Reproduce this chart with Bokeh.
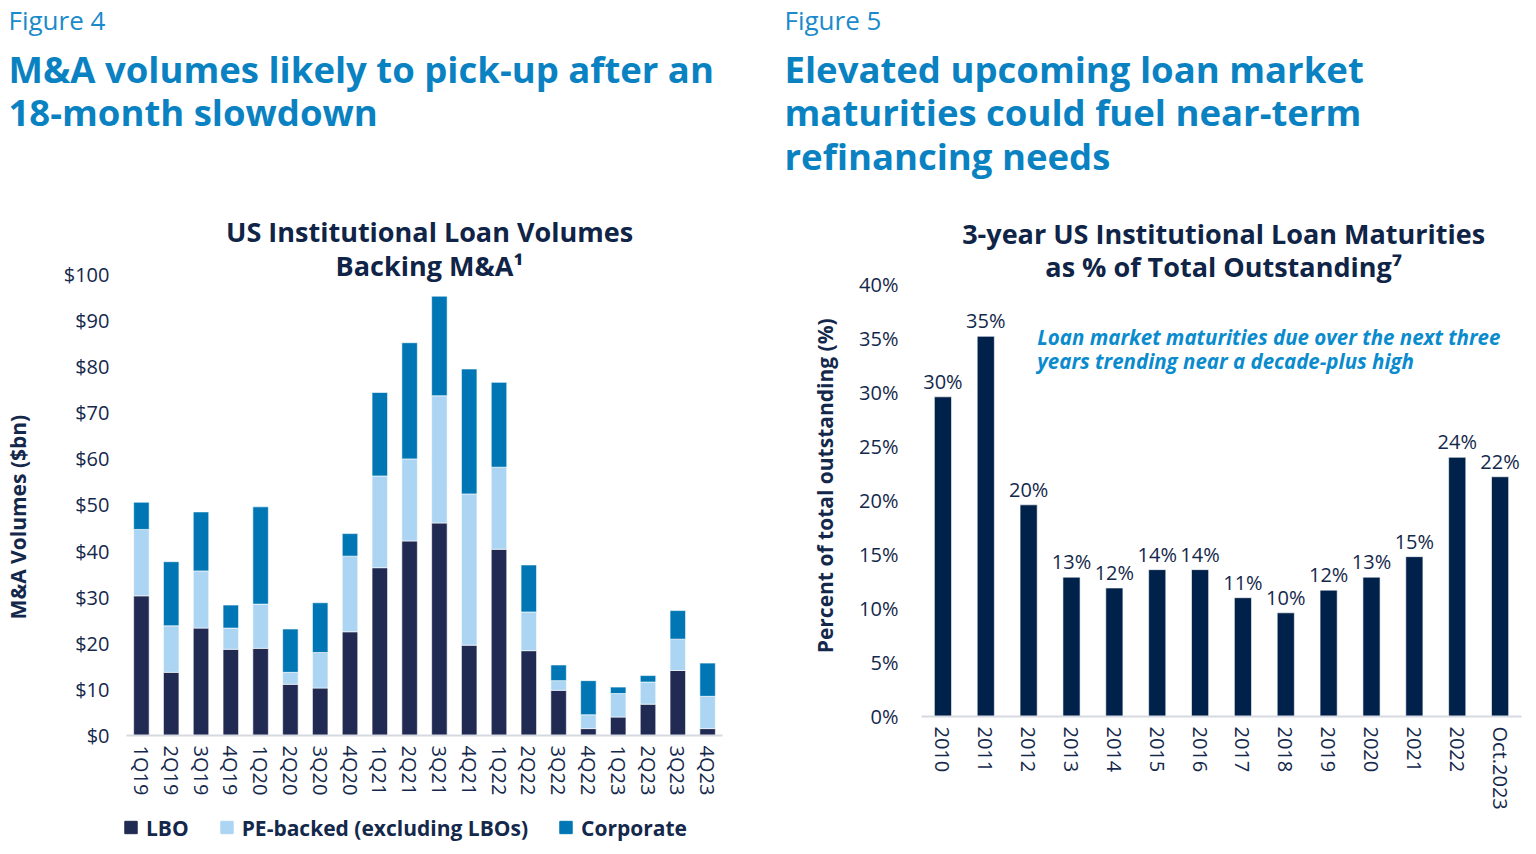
from bokeh.plotting import figure
from bokeh.models import (Legend, LegendItem, ColumnDataSource, Range1d,
                          NumeralTickFormatter, PrintfTickFormatter, FixedTicker)
from bokeh.layouts import row, column
from bokeh.core.properties import value
from bokeh.embed import file_html
from bokeh.resources import INLINE

# ---------------- data ----------------
quarters = ["1Q19", "2Q19", "3Q19", "4Q19", "1Q20", "2Q20", "3Q20", "4Q20",
            "1Q21", "2Q21", "3Q21", "4Q21", "1Q22", "2Q22", "3Q22", "4Q22",
            "1Q23", "2Q23", "3Q23", "4Q23"]
lbo = [30.3, 13.7, 23.3, 18.7, 18.9, 11.1, 10.3, 22.5, 36.4, 42.2,
       46.1, 19.6, 40.4, 18.4, 9.8, 1.5, 4.0, 6.8, 14.1, 1.5]
pe_backed = [14.4, 10.1, 12.4, 4.6, 9.6, 2.6, 7.7, 16.4, 19.9, 17.8,
             27.6, 32.8, 17.8, 8.4, 2.1, 3.0, 5.1, 4.8, 6.8, 7.0]
corporate = [5.9, 13.9, 12.8, 5.0, 21.1, 9.4, 10.8, 4.9, 18.1, 25.2,
             21.6, 27.1, 18.4, 10.2, 3.4, 7.4, 1.4, 1.4, 6.2, 7.2]
series_names = ["LBO", "PE-backed (excluding LBOs)", "Corporate"]
y1_ticks = [0, 10, 20, 30, 40, 50, 60, 70, 80, 90, 100]

years = ["2010", "2011", "2012", "2013", "2014", "2015", "2016", "2017",
         "2018", "2019", "2020", "2021", "2022", "Oct.2023"]
maturity_pct = [29.6, 35.2, 19.6, 12.9, 11.9, 13.6, 13.6, 11.0,
                9.6, 11.7, 12.9, 14.8, 24.0, 22.2]
y2_ticks = [0, 5, 10, 15, 20, 25, 30, 35, 40]

left_header = ["Figure 4", "M&A volumes likely to pick-up after an", "18-month slowdown"]
right_header = ["Figure 5", "Elevated upcoming loan market",
                "maturities could fuel near-term", "refinancing needs"]
left_title = ["US Institutional Loan Volumes", "Backing M&A\u00b9"]
right_title = ["3-year US Institutional Loan Maturities", "as % of Total Outstanding\u2077"]
note_lines = ["Loan market maturities due over the next three",
              "years trending near a decade-plus high"]
left_ylabel = "M&A Volumes ($bn)"
right_ylabel = "Percent of total outstanding (%)"

# ---------------- style ----------------
FONT = "Open Sans"
NAVY_TXT = "#14284b"
TITLE_NAVY = "#0f2446"
HEAD_BLUE = "#0a82c2"
FIG_BLUE = "#1a8acb"
NOTE_BLUE = "#0a8bcd"
C_LBO = "#202a52"
C_PE = "#acd5f3"
C_CORP = "#0077b4"
C_BAR = "#00214a"
AXIS_GREY = "#d5d9e2"
HEAD_H = 188
NBSP = "\u00a0"


def no_align(p):
    if "frame_align" in p.properties():
        p.frame_align = False


def clean(p):
    p.xgrid.visible = False
    p.ygrid.visible = False
    p.outline_line_color = None
    p.background_fill_color = None
    p.border_fill_color = None


def style_axes(p):
    clean(p)
    for ax in (p.xaxis[0], p.yaxis[0]):
        ax.major_tick_line_color = None
        ax.minor_tick_line_color = None
        ax.major_tick_out = 0
        ax.major_tick_in = 0
        ax.minor_tick_out = 0
        ax.minor_tick_in = 0
        ax.major_label_text_font = FONT
        ax.major_label_text_font_size = "20px"
        ax.major_label_text_color = NAVY_TXT
        ax.axis_label_text_font = FONT
        ax.axis_label_text_font_size = "21px"
        ax.axis_label_text_font_style = "bold"
        ax.axis_label_text_color = NAVY_TXT
    p.yaxis[0].axis_line_color = None
    p.xaxis[0].axis_line_color = AXIS_GREY
    p.xaxis[0].axis_line_width = 2
    p.xaxis[0].major_label_orientation = "vertical"
    p.xaxis[0].major_label_standoff = 10


def header_fig(width, lines, xs, ys):
    h = figure(width=width, height=HEAD_H, x_range=Range1d(0, width),
               y_range=Range1d(HEAD_H, 0), x_axis_type=None, y_axis_type=None,
               output_backend="svg", toolbar_location=None,
               min_border=0, min_border_left=0, min_border_right=0,
               min_border_top=0, min_border_bottom=0)
    clean(h)
    no_align(h)
    h.text(x=xs[:1], y=ys[:1], text=lines[:1], text_font=value(FONT),
           text_font_size="26px", text_color=FIG_BLUE, text_baseline="middle")
    h.text(x=xs[1:], y=ys[1:], text=lines[1:], text_font=value(FONT),
           text_font_size="36.5px", text_font_style="bold", text_color=HEAD_BLUE,
           text_baseline="middle")
    return h


def chart_title(p, x, ys, lines):
    p.text(x=[x] * len(lines), y=ys, text=lines, text_font=value(FONT),
           text_font_size="27px", text_font_style="bold", text_color=TITLE_NAVY,
           text_align="center", text_baseline="middle")


# ---------------- left chart ----------------
h1 = header_fig(776, left_header, [8, 8, 8], [19, 68, 111])

src1 = ColumnDataSource(dict(quarter=quarters, lbo=lbo, pe=pe_backed, corp=corporate))
# plot area extends above the $100 tick so that the chart title sits inside it
p1 = figure(x_range=quarters, y_range=Range1d(0, 116.05),
            frame_width=596, frame_height=535,
            output_backend="svg", toolbar_location=None,
            min_border_left=125, min_border_right=55,
            min_border_top=12, min_border_bottom=70)
no_align(p1)
style_axes(p1)
stackers = ["lbo", "pe", "corp"]
colors = [C_LBO, C_PE, C_CORP]
rs = p1.vbar_stack(stackers, x="quarter", width=0.52, color=colors,
                   line_color="white", line_width=0.6, source=src1)
p1.yaxis[0].ticker = FixedTicker(ticks=y1_ticks)
p1.yaxis[0].formatter = NumeralTickFormatter(format="$0")
p1.yaxis[0].major_label_standoff = 17
# trailing no-break spaces shift the label's visible part down along the axis
p1.yaxis[0].axis_label = left_ylabel + NBSP * 18
p1.yaxis[0].axis_label_standoff = 29
chart_title(p1, 10.17, [109.33, 101.95], left_title)

# legend strip under the left chart; its square markers sit far outside the view
lg = figure(width=776, height=44, x_range=quarters, y_range=Range1d(1000, 1001),
            x_axis_type=None, y_axis_type=None, output_backend="svg",
            toolbar_location=None, min_border=0, min_border_left=0,
            min_border_right=0, min_border_top=0, min_border_bottom=0)
clean(lg)
no_align(lg)
lrs = [lg.scatter(x="quarter", y=s, source=src1, marker="square", size=1,
                  fill_color=c, line_color=c) for s, c in zip(stackers, colors)]
legend = Legend(items=[LegendItem(label=n, renderers=[r]) for n, r in zip(series_names, lrs)],
                location="left", orientation="horizontal",
                glyph_width=31, glyph_height=31, label_standoff=0, spacing=22,
                padding=0, margin=115, border_line_color=None,
                background_fill_alpha=0, label_text_font=FONT,
                label_text_font_size="21px", label_text_font_style="bold",
                label_text_color=NAVY_TXT, label_height=24)
lg.add_layout(legend, "center")

# ---------------- right chart ----------------
h2 = header_fig(760, right_header, [7, 7, 7, 7], [19, 68, 111, 155])

pct_labels = [f"{round(v)}%" for v in maturity_pct]
src2 = ColumnDataSource(dict(year=years, pct=maturity_pct, lab=pct_labels))
p2 = figure(x_range=years, y_range=Range1d(0, 47.78),
            frame_width=600, frame_height=516,
            output_backend="svg", toolbar_location=None,
            min_border_left=144, min_border_right=16,
            min_border_top=12, min_border_bottom=138)
no_align(p2)
style_axes(p2)
p2.vbar(x="year", top="pct", width=0.40, color=C_BAR, line_color="white",
        line_width=0.6, source=src2)
p2.text(x="year", y="pct", text="lab", source=src2, text_align="center",
        text_baseline="bottom", y_offset=-2, text_font=value(FONT),
        text_font_size="20px", text_color=NAVY_TXT)
p2.yaxis[0].ticker = FixedTicker(ticks=y2_ticks)
p2.yaxis[0].formatter = PrintfTickFormatter(format="%d%%")
p2.yaxis[0].major_label_standoff = 23
p2.yaxis[0].axis_label = right_ylabel + NBSP * 10
p2.yaxis[0].axis_label_standoff = 17
chart_title(p2, 7.05, [44.72, 41.67], right_title)

# annotation inside the plot area
p2.text(x=[2.7, 2.7], y=[35.1, 32.9], text=note_lines, text_font=value(FONT),
        text_font_size="20.5px", text_font_style="bold italic",
        text_color=NOTE_BLUE, text_baseline="middle", text_align="left")

layout = row(column(h1, p1, lg, spacing=0), column(h2, p2, spacing=0), spacing=0)
open("out.html", "w").write(file_html(layout, INLINE))
